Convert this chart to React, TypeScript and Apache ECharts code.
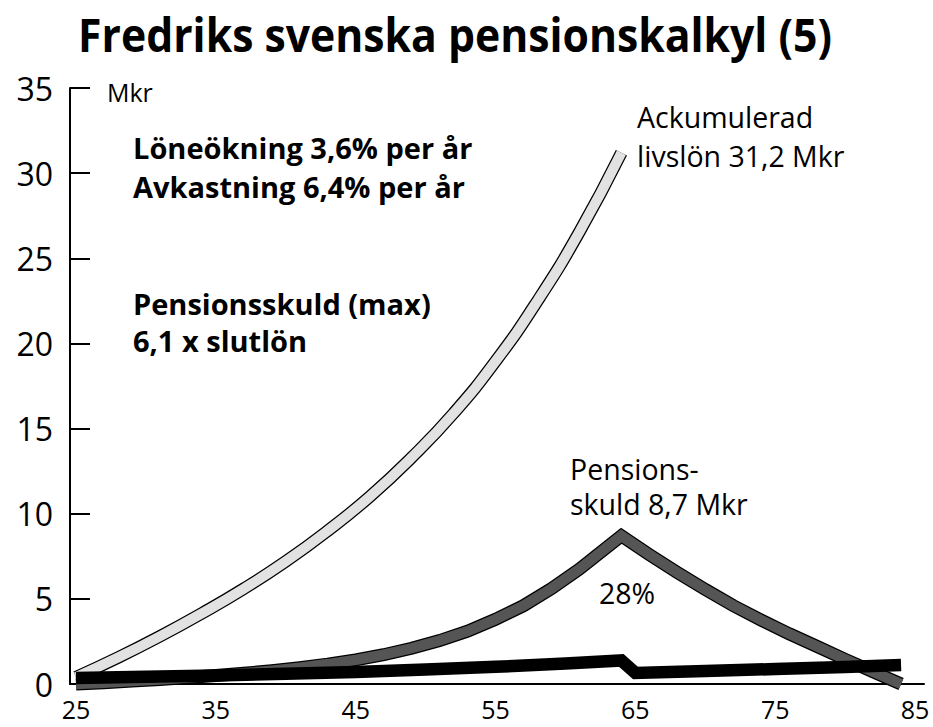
import React, { useEffect, useRef } from "react";
import * as echarts from "echarts";

const TITLE = "Fredriks svenska pensionskalkyl (5)";
const X_TICKS = [25, 35, 45, 55, 65, 75, 85];

// Ackumulerad livslön (Mkr)
const LIVSLON_AGES = [25, 28, 31, 34, 37, 40, 43, 46, 49, 52, 55, 58, 61, 64];
const LIVSLON_VALUES = [0.4, 1.55, 2.8, 4.15, 5.6, 7.2, 9.0, 11.0, 13.3, 15.9, 18.95, 22.5, 26.55, 31.2];

// Pensionsskuld (Mkr)
const SKULD_AGES = [25, 27, 29, 31, 33, 35, 37, 39, 41, 43, 45, 47, 49, 51, 53, 55, 57, 59, 61, 63, 64, 66, 68, 70, 72, 74, 76, 78, 80, 82, 84];
const SKULD_VALUES = [0, 0.08, 0.17, 0.27, 0.38, 0.5, 0.63, 0.78, 0.96, 1.17, 1.42, 1.72, 2.1, 2.55, 3.1, 3.8, 4.6, 5.6, 6.75, 8.05, 8.7, 7.6, 6.55, 5.55, 4.6, 3.75, 2.95, 2.2, 1.45, 0.72, 0];

// Lön / pension per år (Mkr)
const LON_AGES = [25, 30, 35, 40, 45, 50, 55, 60, 64, 65, 70, 75, 80, 84];
const LON_VALUES = [0.35, 0.42, 0.5, 0.6, 0.71, 0.85, 1.01, 1.2, 1.38, 0.65, 0.76, 0.88, 1.0, 1.12];

const FONT = "'Open Sans', 'Noto Sans', sans-serif";

function pairs(xs: number[], ys: number[]) {
  return xs.map((x, i) => [x, ys[i]]);
}

function measure(text: string, font: string): number {
  const c = document.createElement("canvas");
  const ctx = c.getContext("2d");
  if (!ctx) return 0;
  ctx.font = font;
  return ctx.measureText(text).width;
}

export default function App() {
  const ref = useRef<HTMLDivElement>(null);

  useEffect(() => {
    if (!ref.current) return;
    const chart = echarts.init(ref.current, null, { renderer: "svg" });

    const titleSize = 46;
    const tw = measure(TITLE, `bold ${titleSize}px 'Open Sans'`);
    const titleScale = tw > 0 ? 754 / tw : 0.78;

    const lineBase = {
      type: "line" as const,
      symbol: "none",
      showSymbol: false,
      silent: true,
      clip: false,
      animation: false,
    };

    const txt = (
      text: string,
      x: number,
      y: number,
      size: number,
      bold = false,
      align: "left" | "center" = "left"
    ) => ({
      type: "text",
      x,
      y,
      silent: true,
      style: {
        text,
        fill: "#000",
        font: `${bold ? "bold " : ""}${size}px ${FONT}`,
        textAlign: align,
        textVerticalAlign: "middle",
      },
    });

    const option: any = {
      animation: false,
      backgroundColor: "#fff",
      textStyle: { fontFamily: FONT },
      grid: { left: 70, right: 9, top: 88, bottom: 43, containLabel: false },
      xAxis: {
        type: "value",
        min: 24.57,
        max: 85.64,
        axisLine: { show: true, lineStyle: { color: "#000", width: 2 } },
        axisTick: { show: false },
        splitLine: { show: false },
        axisLabel: {
          customValues: X_TICKS,
          color: "#000",
          fontSize: 25,
          lineHeight: 25,
          fontFamily: FONT,
          margin: 12,
        },
      },
      yAxis: {
        type: "value",
        min: 0,
        max: 35,
        interval: 5,
        axisLine: { show: true, lineStyle: { color: "#000", width: 2 } },
        axisTick: { show: true, inside: true, length: 20, lineStyle: { color: "#000", width: 2 } },
        splitLine: { show: false },
        axisLabel: { color: "#000", fontSize: 32, fontFamily: FONT, margin: 17 },
      },
      series: [
        { ...lineBase, name: "livslon-kant", data: pairs(LIVSLON_AGES, LIVSLON_VALUES), smooth: true, z: 1, lineStyle: { color: "#000", width: 12.5 } },
        { ...lineBase, name: "Ackumulerad livslön", data: pairs(LIVSLON_AGES, LIVSLON_VALUES), smooth: true, z: 2, lineStyle: { color: "#e2e2e2", width: 10 } },
        { ...lineBase, name: "skuld-kant", data: pairs(SKULD_AGES, SKULD_VALUES), z: 3, lineStyle: { color: "#000", width: 13, join: "miter" } },
        { ...lineBase, name: "Pensionsskuld", data: pairs(SKULD_AGES, SKULD_VALUES), z: 4, lineStyle: { color: "#555555", width: 10.5, join: "miter" } },
        { ...lineBase, name: "Lön", data: pairs(LON_AGES, LON_VALUES), z: 5, lineStyle: { color: "#000", width: 12.5, join: "miter" } },
      ],
      graphic: [
        {
          type: "text",
          x: 455,
          y: 34,
          scaleX: titleScale,
          silent: true,
          style: {
            text: TITLE,
            fill: "#000",
            font: `bold ${titleSize}px 'Open Sans', sans-serif`,
            textAlign: "center",
            textVerticalAlign: "middle",
          },
        },
        txt("Mkr", 107, 92, 25),
        txt("Löneökning 3,6% per år", 133, 147, 29, true),
        txt("Avkastning 6,4% per år", 133, 186, 29, true),
        txt("Pensionsskuld (max)", 133, 303, 29, true),
        txt("6,1 x slutlön", 133, 340, 29, true),
        txt("Ackumulerad", 637, 117, 28.5),
        txt("livslön 31,2 Mkr", 637, 156, 28.5),
        txt("Pensions-", 570, 469, 28.5),
        txt("skuld 8,7 Mkr", 570, 504, 28.5),
        txt("28%", 627, 593, 28.5, false, "center"),
      ],
    };

    chart.setOption(option);
    return () => chart.dispose();
  }, []);

  return (
    <div
      ref={ref}
      style={{ position: "fixed", left: 0, top: 0, width: 933, height: 727, background: "#fff" }}
    />
  );
}
